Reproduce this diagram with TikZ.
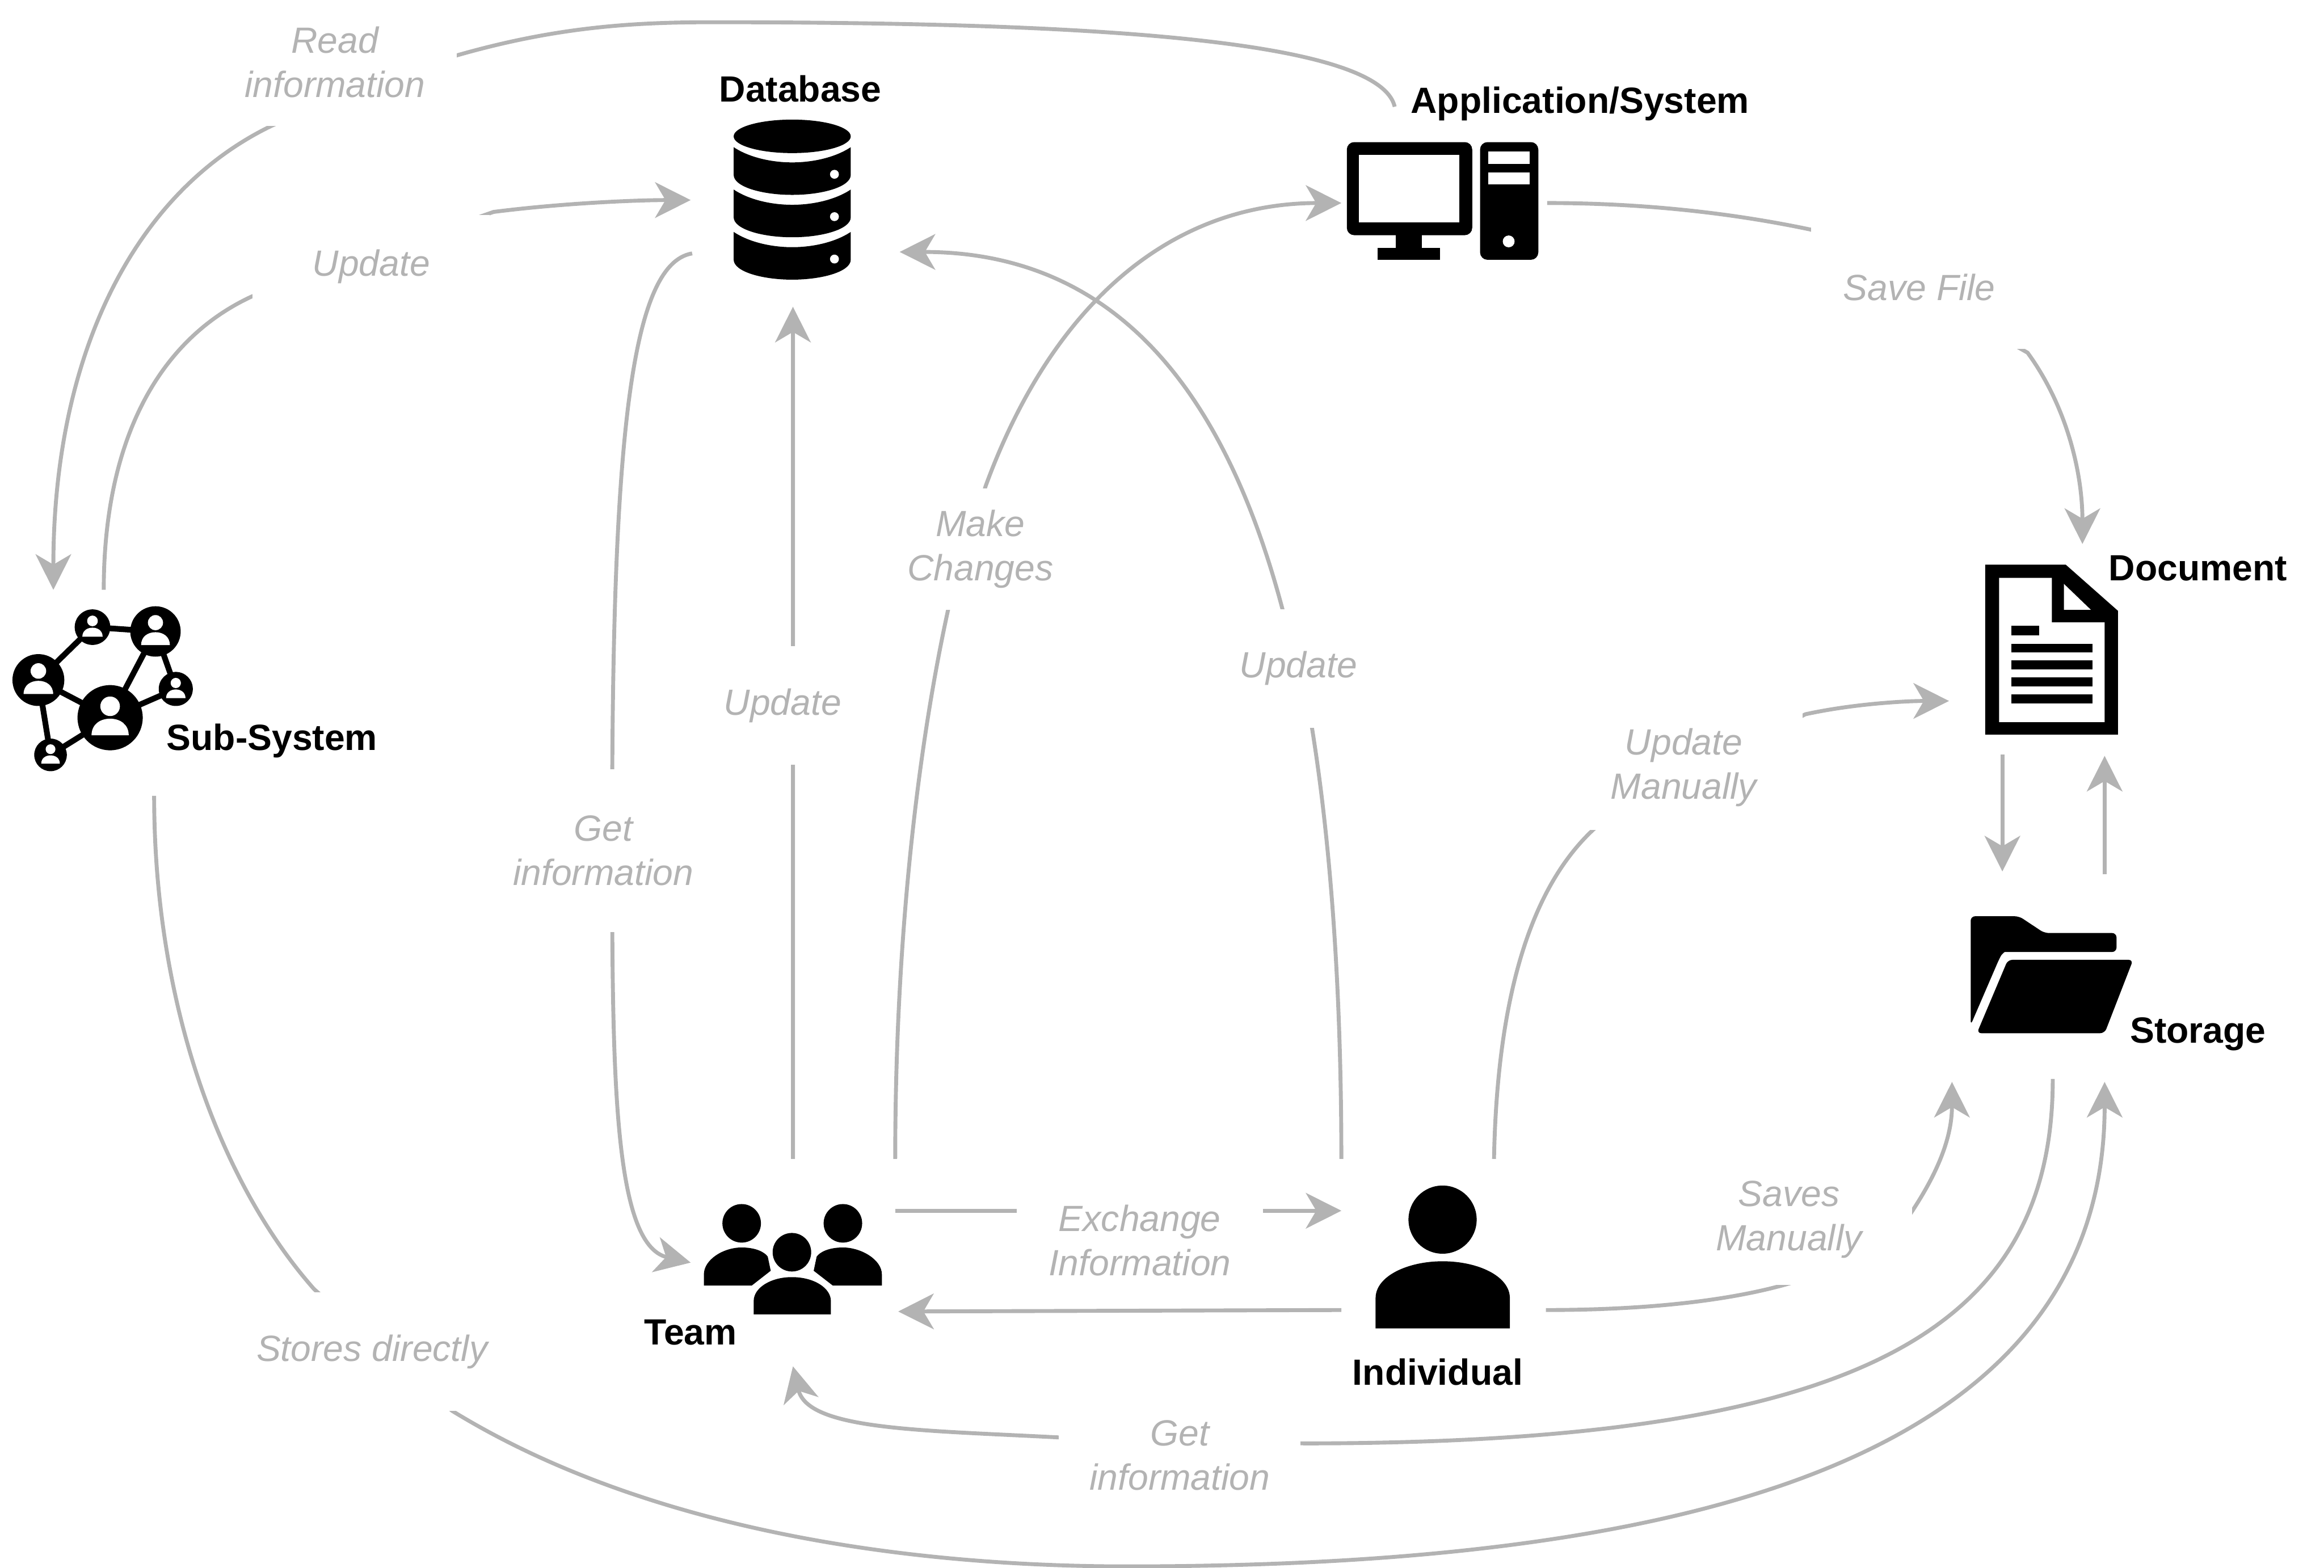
\documentclass[tikz,border=0pt]{standalone}
\usepackage{fontspec}
\setmainfont{Liberation Sans}
\usetikzlibrary{arrows.meta}
\definecolor{linegrey}{HTML}{B3B3B3}
\tikzset{
  link/.style={draw=linegrey,line width=0.75pt,-{Stealth[length=2.4mm,width=2.4mm,inset=0.7mm]}},
  info/.style={fill=white,text=linegrey,align=center,inner sep=0pt,font=\fontsize{7}{8.5}\selectfont\itshape},
  iconbox/.style={inner sep=0pt,outer sep=0pt},
  tag/.style={inner sep=0pt,font=\fontsize{7}{8.5}\selectfont\bfseries}
}
\begin{document}
\begin{tikzpicture}[x=0.1mm,y=-0.1mm]
\useasboundingbox (0,0) rectangle (1568,1058);

% icon places
\node[iconbox,minimum width=7.9mm,minimum height=10.8mm] (db) at (534.5,135) {};
\node[iconbox,minimum width=12.92mm,minimum height=7.94mm] (app) at (973.3,135.6) {};
\node[iconbox,minimum width=12.3mm,minimum height=11mm] (sub) at (69.5,465) {};
\node[iconbox,minimum width=8.96mm,minimum height=11.47mm] (doc) at (1384.2,438.4) {};
\node[iconbox,minimum width=10.96mm,minimum height=7.89mm] (stor) at (1384.4,657.8) {};
\node[iconbox,minimum width=12mm,minimum height=7.42mm] (team) at (535,849.8) {};
\node[iconbox,minimum width=9.07mm,minimum height=9.6mm] (ind) at (973.4,848.4) {};

% connectors
\draw[link] ([shift={(-32.3,-23.9)}]app.north) .. controls (930,25) and (720,15) .. (480,15) .. controls (400,15) and (320,22) .. (183,85) .. controls (90,130) and (36,240) .. ([shift={(-33.5,-12)}]sub.north);
\draw[link] ([shift={(0.5,-12)}]sub.north) .. controls (70,300) and (105,230) .. (170,200) -- (333,143) .. controls (380,137) and (430,135) .. ([shift={(-29,0)}]db.west);
\draw[link] ([shift={(-28,36)}]db.west) .. controls (425,178) and (413,300) .. (413,560) .. controls (413,720) and (413,840) .. ([shift={(-9,2.2)}]team.west);
\draw[link] ([shift={(0,-30.7)}]team.north) -- ([shift={(0.5,18)}]db.south);
\draw[link] ([shift={(69,-30.7)}]team.north) .. controls (604,640) and (618,510) .. (640,410) -- (665,328) .. controls (710,205) and (790,137) .. ([shift={(-3.7,1.4)}]app.west);
\draw[link] ([shift={(-68.4,-18.4)}]ind.north) .. controls (905,670) and (898,570) .. (885,490) -- (865,410) .. controls (825,260) and (750,170) .. ([shift={(33,35)}]db.east);
\draw[link] ([shift={(34.6,-18.4)}]ind.north) .. controls (1010,680) and (1030,600) .. (1077,558) -- (1218,482) .. controls (1250,475) and (1285,473) .. ([shift={(-24.4,34.6)}]doc.west);
\draw[link] ([shift={(6,1.4)}]app.east) .. controls (1110,137) and (1170,144) .. (1222,155) -- (1368,238) .. controls (1395,275) and (1405,320) .. ([shift={(20.8,-14)}]doc.north);
\draw[link] ([shift={(-33.2,13.3)}]doc.south) -- ([shift={(-33.4,-30.3)}]stor.north);
\draw[link] ([shift={(35.6,-28.3)}]stor.north) -- ([shift={(35.8,14.3)}]doc.south);
\draw[link] ([shift={(9,-32.8)}]team.east) -- ([shift={(-23,-31.4)}]ind.west);
\draw[link] ([shift={(-23,35.6)}]ind.west) -- ([shift={(11,35.2)}]team.east);
\draw[link] ([shift={(24.3,35.6)}]ind.east) .. controls (1120,884) and (1180,876) .. (1220,862) -- (1289,819) .. controls (1305,795) and (1317,770) .. ([shift={(-67.4,32.8)}]stor.south);
\draw[link] ([shift={(0.6,30.8)}]stor.south) .. controls (1385,900) and (1250,974) .. (880,974) -- (715,970) .. controls (620,965) and (545,965) .. ([shift={(0,35.1)}]team.south);
\draw[link] ([shift={(34.5,17)}]sub.south) .. controls (104,680) and (150,800) .. (212,870) -- (305,952) .. controls (440,1035) and (620,1057) .. (760,1057) .. controls (1100,1057) and (1420,1000) .. ([shift={(35.6,32.8)}]stor.south);

% connector labels
\node[info,minimum width=16.4mm,minimum height=8.6mm] (lblread) at (226,42) {Read\\information};
\node[info,minimum width=16mm,minimum height=7mm] (lblsubdb) at (250.5,180) {Update};
\node[info,minimum height=11mm] (lblget) at (407,574) {Get\\information};
\node[info,minimum height=8mm] (lblteamdb) at (528,476) {Update};
\node[info,minimum height=8.2mm] (lblchange) at (661.5,370.5) {Make\\Changes};
\node[info,minimum height=8mm] (lblinddb) at (876,451) {Update};
\node[info,minimum width=16mm,minimum height=8.4mm] (lblmandoc) at (1136,518) {Update\\Manually};
\node[info,minimum width=14.6mm,minimum height=8.3mm] (lblsave) at (1295,194) {Save File};
\node[info,minimum width=16.6mm,minimum height=6.6mm] (lblexch) at (769,837) {Exchange\\Information};
\node[info,minimum width=16.6mm,minimum height=8.8mm] (lblmanstor) at (1207,823) {Saves\\Manually};
\node[info,minimum width=16.3mm,minimum height=6mm] (lblgetstor) at (796,982) {Get\\information};
\node[info,minimum width=17mm,minimum height=8mm] (lbldirect) at (251,912) {Stores directly};

% icon names
\node[tag] (tagdb) at (540,60) {Database};
\node[tag] (tagapp) at (1066,70) {Application/System};
\node[tag] (tagsub) at (183.5,500) {Sub-System};
\node[tag] (tagdoc) at (1483,383.5) {Document};
\node[tag] (tagstor) at (1483,698) {Storage};
\node[tag] (tagteam) at (466,899) {Team};
\node[tag] (tagind) at (970,926) {Individual};

% database
\fill (534.5,92) ellipse (39.5 and 11.3);
\foreach \dy in {0,28.6,57.2} {
  \fill (495,99.3+\dy) .. controls (505,106+\dy) and (520,109.6+\dy) .. (534.5,109.6+\dy) .. controls (549,109.6+\dy) and (564,106+\dy) .. (574,99.3+\dy) -- (574,118+\dy) .. controls (574,126+\dy) and (555,131.5+\dy) .. (534.5,131.5+\dy) .. controls (514,131.5+\dy) and (495,126+\dy) .. (495,118+\dy) -- cycle;
  \fill[white] (563,117.6+\dy) circle (3);
}

% application/system
\fill[rounded corners=0.5mm] (908.7,95.9) rectangle (993.3,158.7);
\fill[white] (917,104.5) rectangle (984.4,150.1);
\fill (941.7,158) rectangle (959.5,168);
\fill (929.4,167.3) rectangle (971.6,175.3);
\fill[rounded corners=0.5mm] (998.6,95.9) rectangle (1037.9,175.3);
\fill[white] (1004.1,102.2) rectangle (1032.2,110.7);
\fill[white] (1004.1,116.4) rectangle (1032.2,124.4);
\fill[white] (1017.9,162.9) circle (4);

% sub-system
\draw[line width=1.1pt] (62.4,423.2) -- (104.9,426.1) -- (74.3,484.3) -- (25.9,458.9) -- (62.4,423.2);
\draw[line width=1.1pt] (104.9,426.1) -- (118.6,464.9) -- (74.3,484.3) -- (34.1,509.4) -- (25.9,458.9);
\foreach \cx/\cy/\cr in {62.4/423.2/12,104.9/426.1/17,25.9/458.9/17.5,74.3/484.3/22,118.6/464.9/11.5,34.1/509.4/11} {
  \fill (\cx,\cy) circle (\cr);
  \fill[white] (\cx,\cy-0.35*\cr) circle (0.3*\cr);
  \fill[white] (\cx-0.57*\cr,\cy+0.54*\cr) .. controls (\cx-0.57*\cr,\cy+0.2*\cr) and (\cx-0.3*\cr,\cy+0.03*\cr) .. (\cx,\cy+0.03*\cr) .. controls (\cx+0.3*\cr,\cy+0.03*\cr) and (\cx+0.57*\cr,\cy+0.2*\cr) .. (\cx+0.57*\cr,\cy+0.54*\cr) -- cycle;
}

% document
\fill (1339.4,381) -- (1393.7,381) -- (1429,412.2) -- (1429,495.7) -- (1339.4,495.7) -- cycle;
\fill[white] (1348.8,389.9) -- (1384.4,389.9) -- (1384.4,420) -- (1420,420) -- (1420,487.3) -- (1348.8,487.3) -- cycle;
\fill[white] (1392.5,394) -- (1410.7,411.5) -- (1392.5,411.5) -- cycle;
\fill (1356.9,422.3) rectangle (1375.9,428.8);
\foreach \ly in {434.4,445.7,457.2,468.5} {
  \fill (1356.9,\ly) rectangle (1411.7,\ly+6);
}

% storage
\fill[rounded corners=0.3mm] (1329.6,691.7) -- (1329.6,618.3) -- (1362.3,618.3) -- (1379.3,629.6) -- (1428,629.6) -- (1428,642.4) -- (1355.6,642.4) .. controls (1352,642.4) and (1350,645) .. (1348.8,647.2) -- cycle;
\fill[rounded corners=0.3mm] (1354.7,647.7) -- (1439.2,647.7) -- (1420,697.2) -- (1333.8,697.2) -- cycle;

% team
\fill (500.4,825.5) circle (13);
\fill (568.7,825.5) circle (13);
\fill (534.3,845) circle (13);
\fill (474.9,867.5) -- (474.9,860) .. controls (474.9,850) and (488,841.8) .. (500.4,841.8) .. controls (510,841.8) and (516,845) .. (518,848) -- (520,857.5) -- (507.2,867.5) -- cycle;
\fill (595,867.5) -- (595,860) .. controls (595,850) and (581,841.8) .. (568.7,841.8) .. controls (559,841.8) and (553,845) .. (551,848) -- (549,857.5) -- (561.9,867.5) -- cycle;
\fill (508.5,886.9) -- (508.5,878) .. controls (508.5,869) and (520,861.8) .. (534.3,861.8) .. controls (549,861.8) and (560.6,869) .. (560.6,878) -- (560.6,886.9) -- cycle;

% individual
\fill (973.3,823) circle (23);
\fill (928.1,896.4) -- (928.1,876) .. controls (928.1,861) and (950,851.1) .. (973.3,851.1) .. controls (997,851.1) and (1018.7,861) .. (1018.7,876) -- (1018.7,896.4) -- cycle;
\end{tikzpicture}
\end{document}
